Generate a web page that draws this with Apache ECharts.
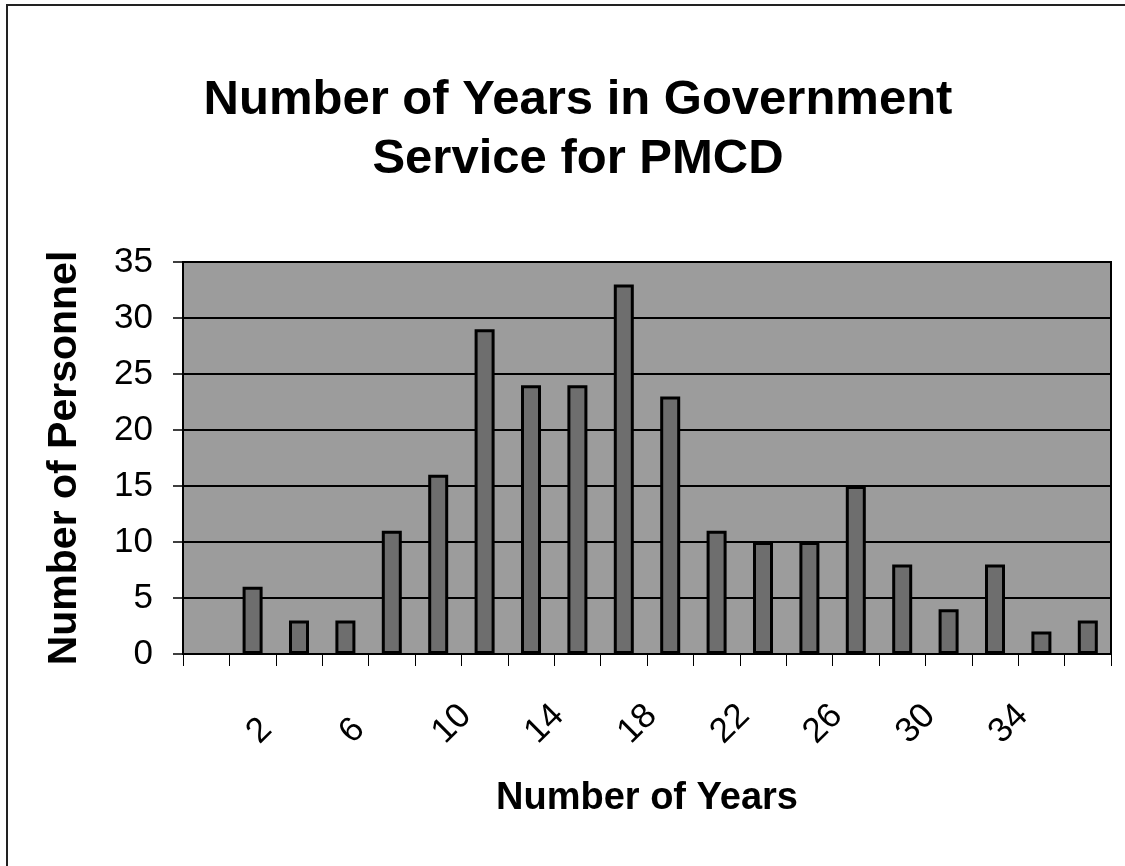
<!DOCTYPE html>
<html>
<head>
<meta charset="utf-8">
<script src="https://cdn.jsdelivr.net/npm/echarts@6/dist/echarts.min.js"></script>
<style>
html,body{margin:0;padding:0;background:#fff;}
#chart{width:1125px;height:866px;}
</style>
</head>
<body>
<div id="chart"></div>
<script>
// Data
const years = ['0','2','4','6','8','10','12','14','16','18','20','22','24','26','28','30','32','34','36','38'];
const personnel = [null,6,3,3,11,16,29,24,24,33,23,11,10,10,15,8,4,8,2,3];
const shownTickLabels = ['2','6','10','14','18','22','26','30','34'];
const yTicks = [0,5,10,15,20,25,30,35];
const titleLines = ['Number of Years in Government','Service for PMCD'];

const chart = echarts.init(document.getElementById('chart'), null, {renderer:'canvas'});
const FONT = 'Liberation Sans, Arial, sans-serif';

chart.setOption({
  animation:false,
  backgroundColor:'#ffffff',
  graphic:[
    {type:'rect', z:-10, shape:{x:7,y:5,width:1200,height:900}, style:{fill:'none',stroke:'#222',lineWidth:2}},
    {type:'text', x:578, y:100, style:{text:titleLines[0], font:'bold 49px '+FONT, fill:'#000', align:'center', verticalAlign:'middle'}},
    {type:'text', x:578, y:159, style:{text:titleLines[1], font:'bold 49px '+FONT, fill:'#000', align:'center', verticalAlign:'middle'}}
  ],
  grid:{left:183, right:14, top:262, bottom:212, show:true, backgroundColor:'#9c9c9c', borderColor:'#000', borderWidth:2},
  xAxis:{
    type:'category',
    data:years,
    boundaryGap:true,
    name:'Number of Years',
    nameLocation:'middle',
    nameGap:126,
    nameTextStyle:{fontFamily:FONT, fontWeight:'bold', fontSize:38, color:'#000'},
    axisLine:{show:true, lineStyle:{color:'#000', width:2}},
    axisTick:{show:true, inside:false, length:12, interval:0, alignWithLabel:false, lineStyle:{color:'#000', width:1}},
    axisLabel:{
      interval:(idx, val) => shownTickLabels.indexOf(val) >= 0,
      rotate:45, align:'left', verticalAlign:'middle', margin:84,
      fontFamily:FONT, fontSize:35, color:'#000'
    },
    splitLine:{show:false}
  },
  yAxis:{
    type:'value',
    min:yTicks[0], max:yTicks[yTicks.length-1], interval:5,
    name:'Number of Personnel',
    nameLocation:'middle',
    nameRotate:90,
    nameGap:98,
    nameTextStyle:{fontFamily:FONT, fontWeight:'bold', fontSize:41, color:'#000'},
    axisLine:{show:true, lineStyle:{color:'#000', width:2}},
    axisTick:{show:true, inside:false, length:10, lineStyle:{color:'#000', width:1.5}},
    axisLabel:{fontFamily:FONT, fontSize:35, color:'#000', margin:30},
    splitLine:{show:true, lineStyle:{color:'#000', width:2}}
  },
  series:[{
    type:'bar',
    data:personnel,
    barWidth:20,
    itemStyle:{color:'#6e6e6e', borderColor:'#000', borderWidth:3}
  }]
});
</script>
</body>
</html>
